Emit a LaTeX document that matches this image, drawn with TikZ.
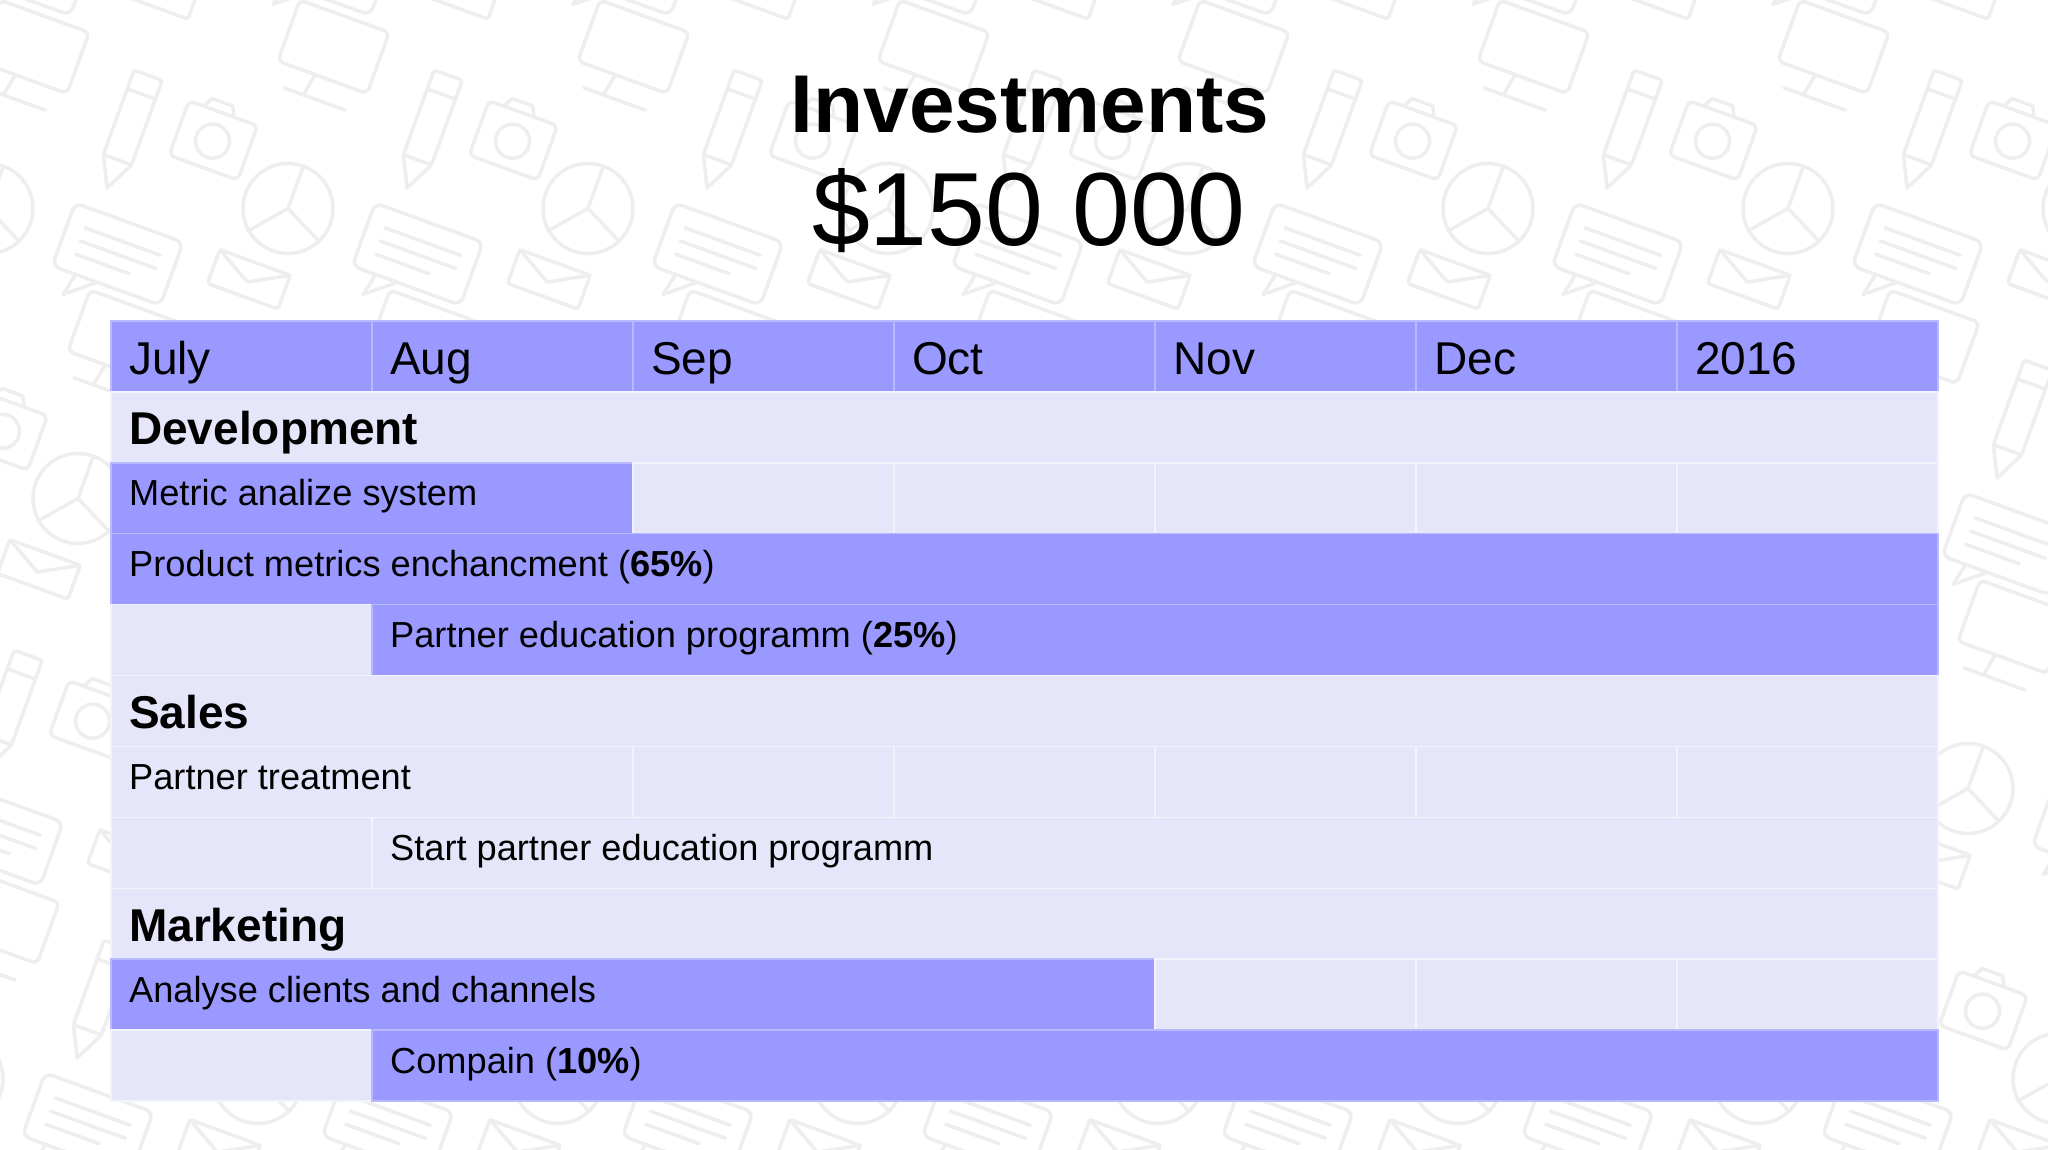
\documentclass[tikz,border=0pt]{standalone}
\usepackage{fontspec}
\setmainfont{Liberation Sans}
\definecolor{hdr}{RGB}{153,153,255}
\definecolor{lite}{RGB}{230,230,250}
\definecolor{litegrid}{RGB}{243,243,252}
\definecolor{hdrgrid}{RGB}{185,185,255}
\definecolor{pat}{RGB}{238,238,238}
\tikzset{
  x=1pt, y=-1pt,
  patternicon/.style={draw=pat, line width=3.5, line cap=round, line join=round},
  purplecell/.style={fill=hdr, draw=hdrgrid, line width=1.5},
  litecell/.style={fill=lite, draw=litegrid, line width=1.5},
  headtxt/.style={anchor=base west, inner sep=0, font=\fontsize{46}{50}\selectfont},
  sectxt/.style={anchor=base west, inner sep=0, font=\fontsize{46}{50}\selectfont\bfseries},
  bodytxt/.style={anchor=base west, inner sep=0, font=\fontsize{36.2}{40}\selectfont},
  titletxt/.style={anchor=base, inner sep=0, font=\fontsize{82}{86}\selectfont\bfseries},
  amounttxt/.style={anchor=base, inner sep=0, font=\fontsize{104}{108}\selectfont},
  icontile/.pic={
    % monitor
    \draw[patternicon, rounded corners=6] (0,0) rectangle (95,65);
    \draw[patternicon] (40,65) -- (36,86) (15,88) -- (80,88);
    % pencil
    \draw[patternicon, rounded corners=3] (150,20) rectangle (180,110);
    \draw[patternicon] (150,110) -- (165,140) -- (180,110) (150,40) -- (180,40);
    % pie chart
    \draw[patternicon] (60,200) circle (45);
    \draw[patternicon] (60,155) -- (60,200) -- (100,220) (60,200) -- (30,235);
    % speech bubble
    \draw[patternicon, rounded corners=8] (140,165) rectangle (255,232);
    \draw[patternicon] (165,232) -- (160,255) -- (188,232);
    \draw[patternicon] (158,185) -- (238,185) (158,199) -- (238,199) (158,213) -- (215,213);
    % camera
    \draw[patternicon, rounded corners=6] (212,30) rectangle (285,88);
    \draw[patternicon] (248,60) circle (17);
    \draw[patternicon] (228,30) -- (233,20) -- (255,20) -- (260,30);
    % envelope
    \draw[patternicon, rounded corners=3] (10,262) rectangle (85,298);
    \draw[patternicon] (10,262) -- (47,283) -- (85,262);
  }
}
\newcommand{\cellbox}[4]{\path[#4] ({111+261*(#1)},{321+70.91*(#3)}) rectangle ({111+261*(#2)},{321+70.91*(#3+1)});}
\begin{document}
\begin{tikzpicture}
\useasboundingbox (0,0) rectangle (2048,1150);
\fill[white] (0,0) rectangle (2048,1150);
% background icon pattern
\begin{scope}
  \clip (0,0) rectangle (2048,1150);
  \foreach \i in {-1,...,7} {
    \foreach \j in {-1,...,4} {
      \pic[rotate=-20] at ({300*\i+90*\j},{290*\j}) {icontile};
    }
  }
\end{scope}
% title
\node[titletxt] (title) at (1030,133) {Investments};
\node[amounttxt] (amount) at (1029,246) {\$150 000};
% header row
\foreach \c in {0,...,6} { \cellbox{\c}{\c+1}{0}{purplecell} }
% Development
\cellbox{0}{7}{1}{litecell}
% Metric analize system
\cellbox{0}{2}{2}{purplecell}
\foreach \c in {2,...,6} { \cellbox{\c}{\c+1}{2}{litecell} }
% Product metrics
\cellbox{0}{7}{3}{purplecell}
% Partner education
\cellbox{0}{1}{4}{litecell}
\cellbox{1}{7}{4}{purplecell}
% Sales
\cellbox{0}{7}{5}{litecell}
% Partner treatment
\cellbox{0}{2}{6}{litecell}
\foreach \c in {2,...,6} { \cellbox{\c}{\c+1}{6}{litecell} }
% Start partner education
\cellbox{0}{1}{7}{litecell}
\cellbox{1}{7}{7}{litecell}
% Marketing
\cellbox{0}{7}{8}{litecell}
% Analyse
\cellbox{0}{4}{9}{purplecell}
\foreach \c in {4,...,6} { \cellbox{\c}{\c+1}{9}{litecell} }
% Compain
\cellbox{0}{1}{10}{litecell}
\cellbox{1}{7}{10}{purplecell}
% header texts
\node[headtxt] (hjul) at (129,374) {July};
\node[headtxt] (haug) at (390,374) {Aug};
\node[headtxt] (hsep) at (651,374) {Sep};
\node[headtxt] (hoct) at (912,374) {Oct};
\node[headtxt] (hnov) at (1173,374) {Nov};
\node[headtxt] (hdec) at (1434,374) {Dec};
\node[headtxt] (hyr) at (1695,374) {2016};
% section and task texts
\node[sectxt] (dev) at (129,444) {Development};
\node[bodytxt] (metric) at (129,505) {Metric analize system};
\node[bodytxt] (product) at (129,576) {Product metrics enchancment (\textbf{65\%})};
\node[bodytxt] (partneredu) at (390,647) {Partner education programm (\textbf{25\%})};
\node[sectxt] (sales) at (129,728) {Sales};
\node[bodytxt] (ptreat) at (129,789) {Partner treatment};
\node[bodytxt] (startedu) at (390,860) {Start partner education programm};
\node[sectxt] (mkt) at (129,941) {Marketing};
\node[bodytxt] (analyse) at (129,1002) {Analyse clients and channels};
\node[bodytxt] (compain) at (390,1073) {Compain (\textbf{10\%})};
\end{tikzpicture}
\end{document}
